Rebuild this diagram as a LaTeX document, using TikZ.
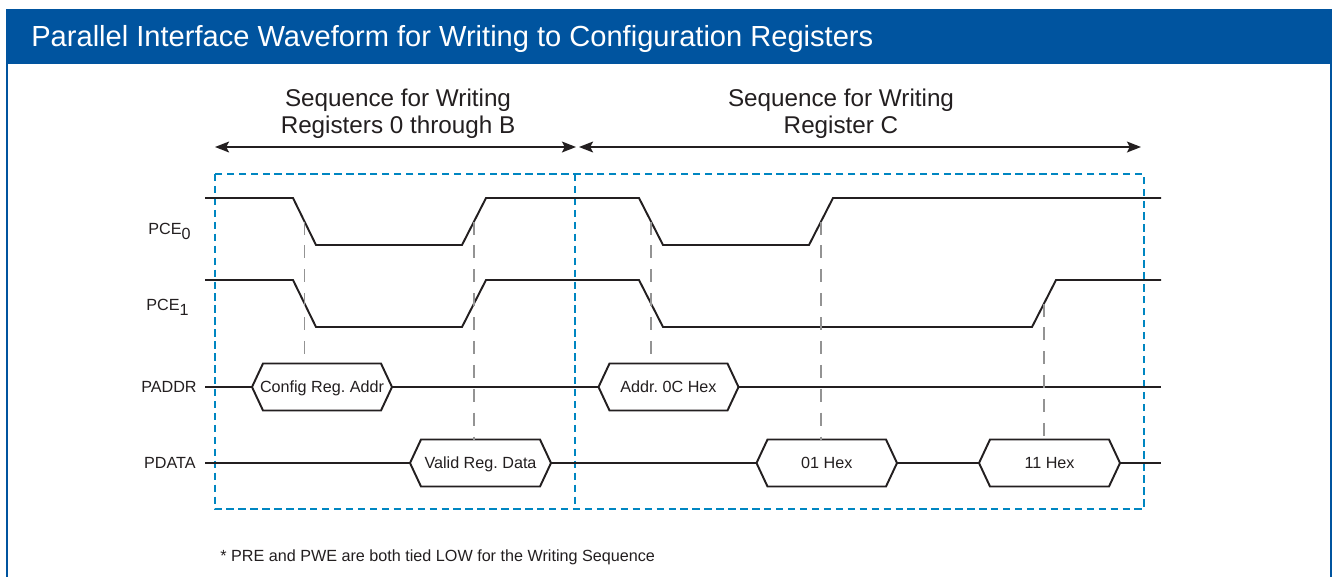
\documentclass[tikz,border=0pt]{standalone}
\usepackage{fontspec}
\setmainfont{Liberation Sans}
\usetikzlibrary{arrows.meta}
\definecolor{hdrblue}{RGB}{0,84,159}
\definecolor{boxblue}{RGB}{0,134,193}
\definecolor{wire}{RGB}{35,31,32}
\tikzset{
  sig/.style={draw=wire, line width=1.1pt, line join=miter},
  guide/.style={draw=gray!85, line width=0.85pt, dash pattern=on 7.4pt off 6.2pt},
  seqbox/.style={draw=boxblue, line width=1.1pt, dash pattern=on 4.2pt off 2.6pt},
  span/.style={draw=wire, line width=0.9pt, {Stealth[length=8pt,width=6.2pt,inset=1.6pt]}-{Stealth[length=8pt,width=6.2pt,inset=1.6pt]}},
  siglabel/.style={font=\fontsize{9.2pt}{11pt}\selectfont, text=wire, anchor=base east, inner sep=0pt},
  hexlabel/.style={font=\fontsize{9.2pt}{11pt}\selectfont, text=wire, anchor=base, inner sep=0pt},
  seqlabel/.style={font=\fontsize{13.8pt}{15.3pt}\selectfont, text=wire, align=center, anchor=base, inner sep=0pt}
}
\begin{document}
\frenchspacing
\begin{tikzpicture}[x=0.02cm,y=-0.02cm]
\clip (0,0) rectangle (1334,576);
\fill[white] (0,0) rectangle (1334,576);
% frame and title bar
\draw[hdrblue, line width=1.2pt] (7,10) rectangle (1331,600);
\fill[hdrblue] (7,10) rectangle (1331,64);
\node[anchor=base west, text=white, inner sep=0pt, font=\fontsize{16.55pt}{19pt}\selectfont] (title) at (31,46) {Parallel Interface Waveform for Writing to Configuration Registers};

% sequence spans
\coordinate (spanA) at (215,147);
\coordinate (spanB) at (576,147);
\coordinate (spanC) at (579,147);
\coordinate (spanD) at (1141,147);
\draw[span] (spanA) -- (spanB);
\draw[span] (spanC) -- (spanD);
\node[seqlabel] (seqA) at (398,133) {Sequence for Writing\\Registers 0 through B};
\node[seqlabel] (seqC) at (841,133) {Sequence for Writing\\Register C};

% dashed boxes
\draw[seqbox] (215,174) rectangle (1144,509);
\draw[seqbox] (575,174) -- (575,509);

% signal names
\node[siglabel] (pce0) at (191,234) {PCE\raisebox{-3.4pt}{0}};
\node[siglabel] (pce1) at (189,310) {PCE\raisebox{-3.4pt}{1}};
\node[siglabel] (paddr) at (197,392) {PADDR};
\node[siglabel] (pdata) at (196,468) {PDATA};

% chip enables
\draw[sig] (205,198) -- (293,198) -- coordinate (f0a) (316,245) -- (462,245) -- coordinate (r0a) (486,198)
  -- (639,198) -- coordinate (f0c) (663,245) -- (809,245) -- coordinate (r0c) (833,198) -- (1161,198);
\draw[sig] (205,280) -- (293,280) -- (316,327) -- (462,327) -- (486,280)
  -- (639,280) -- (663,327) -- (1032,327) -- coordinate (r1c) (1056,280) -- (1161,280);

% bus values
\foreach \n/\xl/\xr/\y/\t in {cfg/252/392/387/Config Reg. Addr, addr/598.5/738.5/387/Addr. 0C Hex,
    vrd/410/551/463/Valid Reg. Data, hA/756.5/897/463/01 Hex, hB/979/1120/463/11 Hex} {
  \draw[sig] (\xl,\y) -- (\xl+11,\y-23.5) -- (\xr-11,\y-23.5) -- (\xr,\y) -- (\xr-11,\y+23.5) -- (\xl+11,\y+23.5) -- cycle;
  \coordinate (\n-w) at (\xl,\y);
  \coordinate (\n-e) at (\xr,\y);
  \coordinate (\n-n) at ({(\xl+\xr)/2},\y-23.5);
  \node[hexlabel] (\n) at ({(\xl+\xr)/2},\y+5.8) {\t};
}
\coordinate (paddrL) at (205,387);
\coordinate (paddrR) at (1161,387);
\coordinate (pdataL) at (205,463);
\coordinate (pdataR) at (1161,463);
\draw[sig] (paddrL) -- (cfg-w);
\draw[sig] (cfg-e) -- (addr-w);
\draw[sig] (addr-e) -- (paddrR);
\draw[sig] (pdataL) -- (vrd-w);
\draw[sig] (vrd-e) -- (hA-w);
\draw[sig] (hA-e) -- (hB-w);
\draw[sig] (hB-e) -- (pdataR);

% timing guides
\draw[guide] (f0a) -- (f0a |- cfg-n);
\draw[guide] (r0a) -- (r0a |- vrd-n);
\draw[guide] (f0c) -- (f0c |- addr-n);
\draw[guide] (r0c) -- (r0c |- hA-n);
\draw[guide] (r1c) -- (r1c |- hB-n);

\node[anchor=base west, inner sep=0pt, text=wire, font=\fontsize{9.2pt}{11pt}\selectfont] (note) at (220,561) {* PRE and PWE are both tied LOW for the Writing Sequence};
\end{tikzpicture}
\end{document}
